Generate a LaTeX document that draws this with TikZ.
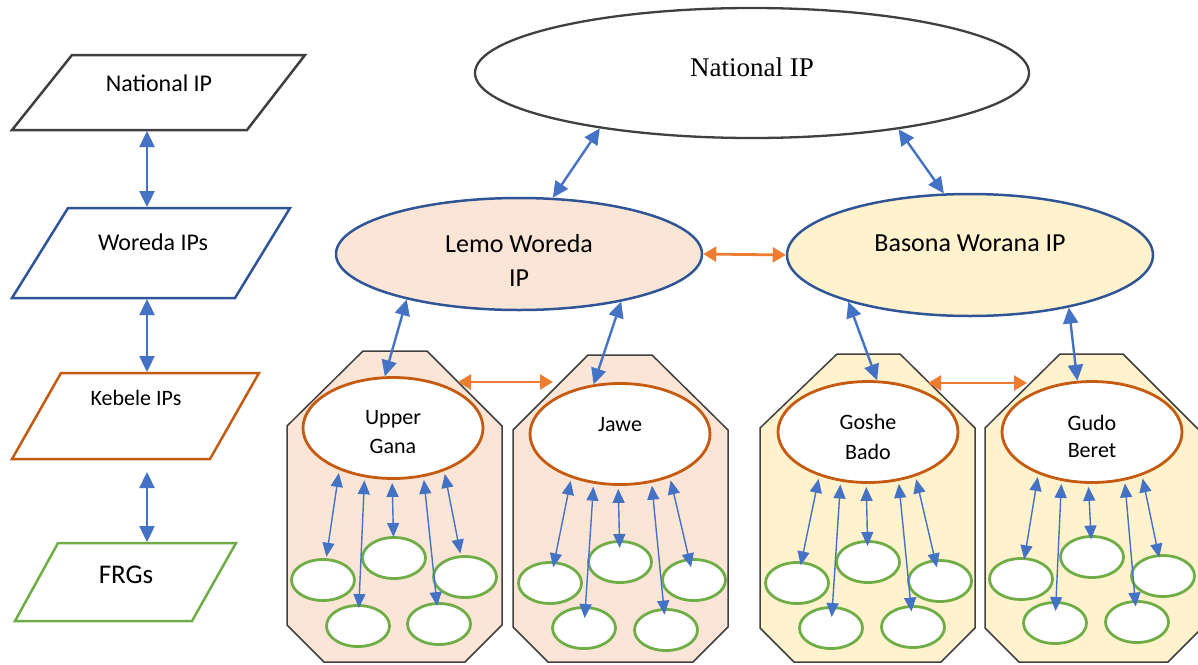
\documentclass[tikz,border=0pt]{standalone}
\usepackage{fontspec}
\setmainfont{Carlito}
\newfontfamily\serifface{Liberation Serif}
\usetikzlibrary{arrows.meta,shapes.geometric}

\definecolor{lineblue}{HTML}{4472C4}
\definecolor{rimblue}{HTML}{2F5597}
\definecolor{peerorange}{HTML}{ED7D31}
\definecolor{kebeleorange}{HTML}{C55A11}
\definecolor{frggreen}{HTML}{70AD47}
\definecolor{lemofill}{HTML}{FBE5D6}
\definecolor{basonafill}{HTML}{FFF2CC}
\definecolor{rimgray}{HTML}{404040}

\tikzset{
  legendbox/.style={line width=2.5pt, fill=white},
  bigoval/.style={ellipse, inner sep=0pt, line width=2.5pt},
  kebele/.style={ellipse, draw=kebeleorange, line width=2.8pt, fill=white,
    inner sep=0pt, minimum width=180pt, minimum height=101pt},
  frg/.style={ellipse, draw=frggreen, line width=2.8pt, fill=white,
    inner sep=0pt, minimum width=63pt, minimum height=41pt},
  region/.style={draw=rimgray, line width=1.5pt},
  link/.style={draw=lineblue, line width=2.4pt,
    {Triangle[length=16pt,width=15pt]}-{Triangle[length=16pt,width=15pt]}},
  sublink/.style={draw=lineblue, line width=1.4pt, shorten <=3pt,
    {Triangle[length=14pt,width=12pt]}-{Triangle[length=14pt,width=12pt]}},
  peer/.style={draw=peerorange, line width=2.8pt,
    {Triangle[length=13pt,width=15pt]}-{Triangle[length=13pt,width=15pt]}},
  legendtext/.style={font=\fontsize{24}{29}\selectfont},
}

\begin{document}
\begin{tikzpicture}[x=1pt,y=-1pt]
\useasboundingbox (0,0) rectangle (1198,664);
\clip (0,0) rectangle (1198,664);

% ---------- legend column ----------
\draw[legendbox, draw=rimgray] (12,130) -- (72,55) -- (305,55) -- (247,130) -- cycle;
\draw[legendbox, draw=rimblue] (12,298) -- (68,208) -- (290,208) -- (235,298) -- cycle;
\draw[legendbox, draw=kebeleorange] (12,459) -- (61,373) -- (259,373) -- (210,459) -- cycle;
\draw[legendbox, draw=frggreen] (15,621) -- (58,543) -- (236,543) -- (192,621) -- cycle;

\node[legendtext] (tnat) at (159,83) {National IP};
\node[legendtext] (twor) at (153,242) {Woreda IPs};
\node[font=\fontsize{22}{26}\selectfont] (tkeb) at (136,398) {Kebele IPs};
\node[font=\fontsize{27}{32}\selectfont] (tfrg) at (126,575) {FRGs};

\coordinate (natB) at (147,131);
\coordinate (worT) at (147,207);
\coordinate (worB) at (147,299);
\coordinate (kebT) at (147,372);
\coordinate (kebB) at (147,472);
\coordinate (frgT) at (147,542);
\draw[link] (natB) -- (worT);
\draw[link] (worB) -- (kebT);
\draw[link] (kebB) -- (frgT);

% ---------- kebele regions ----------
\draw[region, fill=lemofill] (287,426) -- (363,351) -- (427,351) -- (502,426)
  -- (502,625) -- (465,662) -- (324,662) -- (287,625) -- cycle;
\draw[region, fill=lemofill] (513,430) -- (588,355) -- (652,355) -- (728,430)
  -- (728,627) -- (693,662) -- (548,662) -- (513,627) -- cycle;
\draw[region, fill=basonafill] (760,428) -- (837,354) -- (900,354) -- (975,428)
  -- (975,628) -- (941,662) -- (794,662) -- (760,628) -- cycle;
\draw[region, fill=basonafill] (985,428) -- (1060,354) -- (1123,354) -- (1202,433)
  -- (1202,628) -- (1168,662) -- (1019,662) -- (985,628) -- cycle;

% ---------- national and woreda level ----------
\node[bigoval, draw=rimgray, line width=2.3pt, fill=white, minimum width=554pt, minimum height=130pt,
  label={[font=\serifface\fontsize{27}{32}\selectfont, yshift=6pt]center:National IP}]
  (nat) at (752,73) {};
\node[bigoval, draw=rimblue, fill=lemofill, minimum width=366pt, minimum height=112pt,
  label={[align=center, font=\fontsize{26}{34}\selectfont, yshift=-6pt]center:Lemo Woreda\\IP}]
  (lemo) at (519,254) {};
\node[bigoval, draw=rimblue, fill=basonafill, minimum width=366pt, minimum height=122pt,
  label={[font=\fontsize{26}{31}\selectfont, yshift=12pt]center:Basona Worana IP}]
  (bas) at (970,255) {};

% ---------- kebele level ----------
\node[kebele, label={[align=center, font=\fontsize{22}{29}\selectfont, yshift=-4.5pt]center:Upper\\Gana}]
  (ug) at (393,428) {};
\node[kebele, label={[font=\fontsize{22}{29}\selectfont, yshift=9pt]center:Jawe}]
  (jawe) at (620,434) {};
\node[kebele, label={[align=center, font=\fontsize{22}{30}\selectfont, yshift=-5pt]center:Goshe\\Bado}]
  (goshe) at (868,432) {};
\node[kebele, label={[align=center, font=\fontsize{22}{27}\selectfont, yshift=-4.5pt]center:Gudo\\Beret}]
  (gudo) at (1092,432) {};

% ---------- farmer research groups ----------
\node[frg] (u1) at (323,580) {};
\node[frg] (u2) at (394,558) {};
\node[frg] (u3) at (465,577) {};
\node[frg] (u4) at (358,626) {};
\node[frg] (u5) at (439,624) {};
\node[frg] (j1) at (550,583) {};
\node[frg] (j2) at (620,562) {};
\node[frg] (j3) at (694,580) {};
\node[frg] (j4) at (584,628) {};
\node[frg] (j5) at (666,630) {};
\node[frg] (g1) at (797,583) {};
\node[frg] (g2) at (868,562) {};
\node[frg] (g3) at (940,581) {};
\node[frg] (g4) at (831,628) {};
\node[frg] (g5) at (913,627) {};
\node[frg] (b1) at (1021,579) {};
\node[frg] (b2) at (1092,557) {};
\node[frg] (b3) at (1163,576) {};
\node[frg] (b4) at (1055,623) {};
\node[frg] (b5) at (1137,622) {};

% ---------- links ----------
\draw[link] (nat.200) -- (lemo.59);
\draw[link] (nat.339) -- (bas.113);
\draw[peer] (lemo.east) -- (bas.west);
\draw[link] (lemo.202) -- (ug.99);
\draw[link] (lemo.335) -- (jawe.118);
\draw[link] (bas.201) -- (goshe.80);
\draw[link] (bas.332) -- (gudo.106);

\coordinate (ugE) at (458,382);
\coordinate (jaW) at (553,382);
\coordinate (goE) at (928,383);
\coordinate (guW) at (1027,383);
\draw[peer] (ugE) -- (jaW);
\draw[peer] (goE) -- (guW);

\foreach \a/\f/\s in {218/u1/23.5, 240/u4/18, 269/u2/21, 302/u5/18, 320/u3/24}
  \draw[sublink, shorten >=\s pt] (ug.\a) -- (\f.center);
\foreach \a/\f/\s in {222/j1/16, 242/j4/10, 268/j2/14, 303/j5/15.5, 319/j3/13}
  \draw[sublink, shorten >=\s pt] (jawe.\a) -- (\f.center);
\foreach \a/\f/\s in {222/g1/18, 241/g4/11, 268/g2/16, 302/g5/15.5, 317/g3/14}
  \draw[sublink, shorten >=\s pt] (goshe.\a) -- (\f.center);
\foreach \a/\f/\s in {218/b1/20, 238/b4/12, 266/b2/17.5, 304/b5/15.5, 319/b3/18.7}
  \draw[sublink, shorten >=\s pt] (gudo.\a) -- (\f.center);
\end{tikzpicture}
\end{document}
